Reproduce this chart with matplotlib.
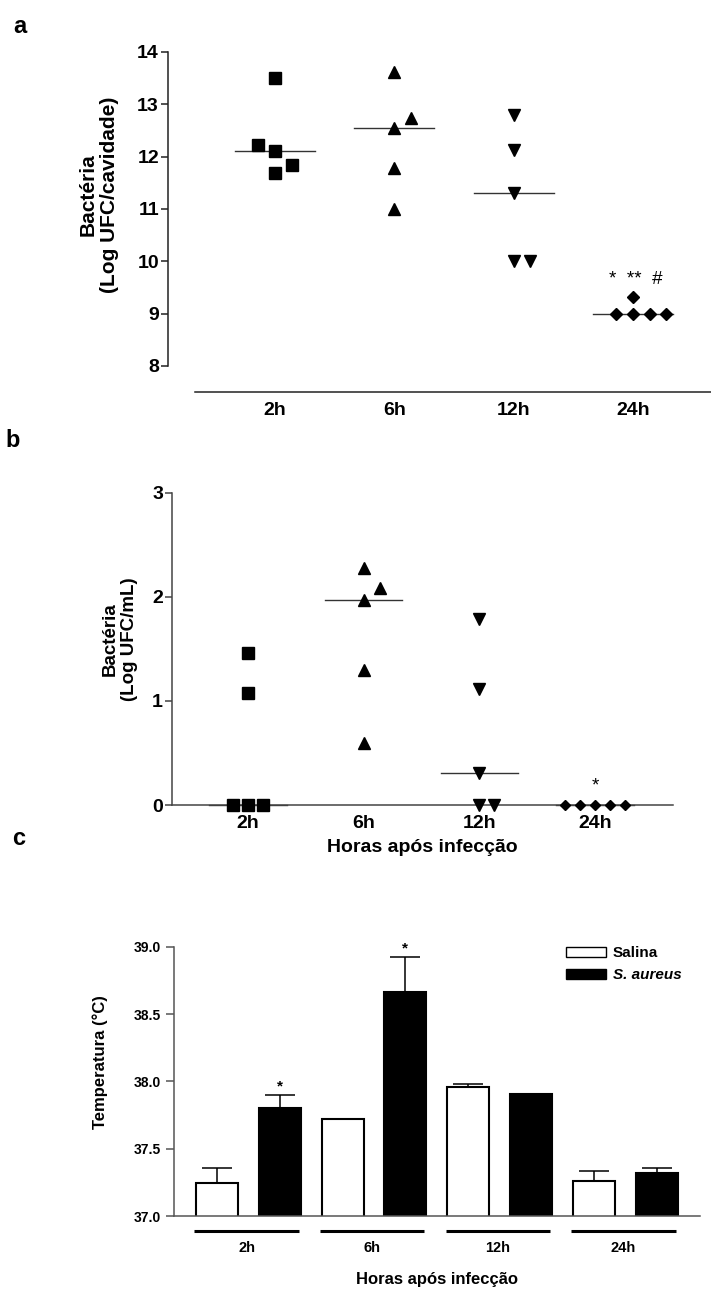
import numpy as np
import matplotlib
matplotlib.use('Agg')
import matplotlib.pyplot as plt
import matplotlib.transforms as mtransforms
from matplotlib.patches import Patch

plt.rcParams['font.family'] = ['Liberation Sans', 'DejaVu Sans']
plt.rcParams['font.weight'] = 'bold'
plt.rcParams['axes.labelweight'] = 'bold'

hours = ['2h', '6h', '12h', '24h']
markers = ['s', '^', 'v', 'D']

# panel a - bacteria in the cavity (Log UFC/cavidade)
cav_2h = [13.50, 12.22, 12.11, 11.84, 11.69]
cav_6h = [13.62, 12.73, 12.55, 11.78, 10.99]
cav_12h = [12.80, 12.13, 11.31, 10.00, 10.00]
cav_24h = [9.32, 9.00, 9.00, 9.00, 9.00]
cav_jitter = [[0, -0.14, 0, 0.14, 0],
              [0, 0.14, 0, 0, 0],
              [0, 0, 0, 0, 0.14],
              [0, -0.14, 0, 0.14, 0.28]]

# panel b - bacteria in blood (Log UFC/mL)
ml_2h = [1.46, 1.08, 0.0, 0.0, 0.0]
ml_6h = [2.28, 2.085, 1.97, 1.30, 0.60]
ml_12h = [1.79, 1.11, 0.31, 0.0, 0.0]
ml_24h = [0.0, 0.0, 0.0, 0.0, 0.0]
ml_jitter = [[0, 0, -0.13, 0, 0.13],
             [0, 0.14, 0, 0, 0],
             [0, 0, 0, 0, 0.13],
             [-0.26, -0.13, 0, 0.13, 0.26]]

# panel c - temperature
salina = [37.243, 37.72, 37.96, 37.262]
salina_err = [0.116, 0.0, 0.022, 0.074]
aureus = [37.804, 38.660, 37.903, 37.322]
aureus_err = [0.094, 0.267, 0.0, 0.032]
aureus_sig = [True, True, False, False]

W, H = 711, 1296
fig = plt.figure(figsize=(W / 100, H / 100), dpi=100)


def px_axes(left, top, right, bottom):
    return fig.add_axes([left / W, 1 - bottom / H, (right - left) / W, (bottom - top) / H])


axis_col = '#222222'

# ---------------- panel a ----------------
ax1 = px_axes(168, 52, 711, 392)
groups = [cav_2h, cav_6h, cav_12h, cav_24h]
for i, vals in enumerate(groups):
    xs = i + np.array(cav_jitter[i])
    ax1.plot(xs, vals, linestyle='none', marker=markers[i], color='black',
             ms=8 if markers[i] == 's' else (6.2 if markers[i] == 'D' else 9), clip_on=False, zorder=3)
    med = np.median(vals)
    ax1.plot([i - 0.335, i + 0.335], [med, med], color='#333333', lw=1.0, zorder=2)

ax1.text(3.02, 9.66, '*  **  #', ha='center', va='center', fontsize=13.5, fontweight='normal')

ax1.set_xlim(-0.897, 3.655)
ax1.set_ylim(7.5, 14)
ax1.set_yticks(range(8, 15))
ax1.set_xticks(range(4))
ax1.set_xticklabels(hours)
ax1.spines['top'].set_visible(False)
ax1.spines['right'].set_visible(False)
ax1.spines['left'].set_bounds(8, 14)
ax1.spines['bottom'].set_bounds(-0.67, 3.655)
for s in ['left', 'bottom']:
    ax1.spines[s].set_linewidth(1.1)
    ax1.spines[s].set_color(axis_col)
ax1.tick_params(axis='y', length=5, width=1.1, pad=1.5, labelsize=14, color=axis_col)
ax1.tick_params(axis='x', length=0, pad=7, labelsize=14)
ax1.set_ylabel('Bactéria\n(Log UFC/cavidade)', fontsize=15, linespacing=1.15, fontweight='bold')
ax1.yaxis.label.set_va('center')
ax1.yaxis.set_label_coords(-0.127, 0.58)

# ---------------- panel b ----------------
ax2 = px_axes(172, 492.7, 673, 805)
groups = [ml_2h, ml_6h, ml_12h, ml_24h]
for i, vals in enumerate(groups):
    xs = i + np.array(ml_jitter[i])
    ax2.plot(xs, vals, linestyle='none', marker=markers[i], color='black',
             ms=8.4 if markers[i] == 's' else (5.4 if markers[i] == 'D' else 8.9), clip_on=False, zorder=3)
    med = np.median(vals)
    ax2.plot([i - 0.335, i + 0.335], [med, med], color='#333333', lw=1.0, zorder=2, clip_on=False)

ax2.text(3, 0.185, '*', ha='center', va='center', fontsize=13.5, fontweight='normal')

ax2.set_xlim(-0.657, 3.673)
ax2.set_ylim(0, 3)
ax2.set_yticks(range(0, 4))
ax2.set_xticks(range(4))
ax2.set_xticklabels(hours)
ax2.spines['top'].set_visible(False)
ax2.spines['right'].set_visible(False)
for s in ['left', 'bottom']:
    ax2.spines[s].set_linewidth(1.1)
    ax2.spines[s].set_color('#444444')
ax2.tick_params(axis='y', length=5, width=1.1, pad=1.5, labelsize=14, color='#444444')
ax2.tick_params(axis='x', length=0, pad=7, labelsize=14)
ax2.set_xlabel('Horas após infecção', fontsize=14, labelpad=5, fontweight='bold')
ax2.set_ylabel('Bactéria\n(Log UFC/mL)', fontsize=13.5, linespacing=1.15, fontweight='bold')
ax2.yaxis.label.set_va('center')
ax2.yaxis.set_label_coords(-0.104, 0.53)

# ---------------- panel c ----------------
ax3 = px_axes(174.3, 946.7, 700, 1216)
x_sal = np.arange(4) * 2
x_aur = np.arange(4) * 2 + 1
bw = 0.67
ax3.bar(x_sal, salina, width=bw, color='white', edgecolor='black', linewidth=1.5, zorder=2)
ax3.bar(x_aur, aureus, width=bw, color='black', edgecolor='black', linewidth=1.5, zorder=2)

for xs, vals, errs in [(x_sal, salina, salina_err), (x_aur, aureus, aureus_err)]:
    keep = np.array(errs) > 0
    ax3.errorbar(xs[keep], np.array(vals)[keep],
                 yerr=[np.zeros(keep.sum()), np.array(errs)[keep]],
                 fmt='none', ecolor='black', elinewidth=1.1, capsize=11, capthick=1.1, zorder=1)

for i in range(4):
    if aureus_sig[i]:
        ax3.text(x_aur[i], aureus[i] + aureus_err[i] + 0.01, '*', ha='center', va='bottom',
                 fontsize=11, fontweight='bold')

ax3.set_xlim(-0.68, 7.69)
ax3.set_ylim(37, 39)
ax3.set_yticks(np.arange(37, 39.01, 0.5))
ax3.set_yticklabels([f'{v:.1f}' for v in np.arange(37, 39.01, 0.5)])
ax3.set_xticks([])
ax3.spines['top'].set_visible(False)
ax3.spines['right'].set_visible(False)
for s in ['left', 'bottom']:
    ax3.spines[s].set_linewidth(1.1)
    ax3.spines[s].set_color('#555555')
ax3.tick_params(axis='y', length=6, width=1.1, pad=3.5, labelsize=10, color='#555555')

# group underlines and hour labels
trans = mtransforms.blended_transform_factory(ax3.transData, ax3.transAxes)
for i, h in enumerate(hours):
    c = 2 * i + 0.47
    ax3.plot([c - 0.83, c + 0.83], [-0.055, -0.055], color='black', lw=2.2,
             transform=trans, clip_on=False, solid_capstyle='butt')
    ax3.text(c, -0.12, h, transform=trans, ha='center', va='center', fontsize=10.5)

ax3.set_xlabel('Horas após infecção', fontsize=12, labelpad=40, fontweight='bold')
ax3.set_ylabel('Temperatura (°C)', fontsize=12, fontweight='bold')
ax3.yaxis.label.set_va('center')
ax3.yaxis.set_label_coords(-0.141, 0.573)

handles = [Patch(facecolor='white', edgecolor='black', linewidth=1.0, label='Salina'),
           Patch(facecolor='black', edgecolor='black', linewidth=1.0, label='S. aureus')]
leg = ax3.legend(handles=handles, loc='upper left', bbox_to_anchor=(566 / W, 1 - 946 / H),
                 bbox_transform=fig.transFigure, frameon=False,
                 prop={'size': 11, 'weight': 'bold'},
                 handlelength=2.6, handleheight=0.65, handletextpad=0.45,
                 labelspacing=0.55, borderpad=0, borderaxespad=0)
leg.get_texts()[1].set_fontstyle('italic')

# panel letters
fig.text(13 / W, 1 - 33 / H, 'a', fontsize=17, fontweight='bold', va='baseline')
fig.text(5 / W, 1 - 447 / H, 'b', fontsize=17, fontweight='bold', va='baseline')
fig.text(12 / W, 1 - 845 / H, 'c', fontsize=17, fontweight='bold', va='baseline')

fig.savefig('out.png', dpi=100)
